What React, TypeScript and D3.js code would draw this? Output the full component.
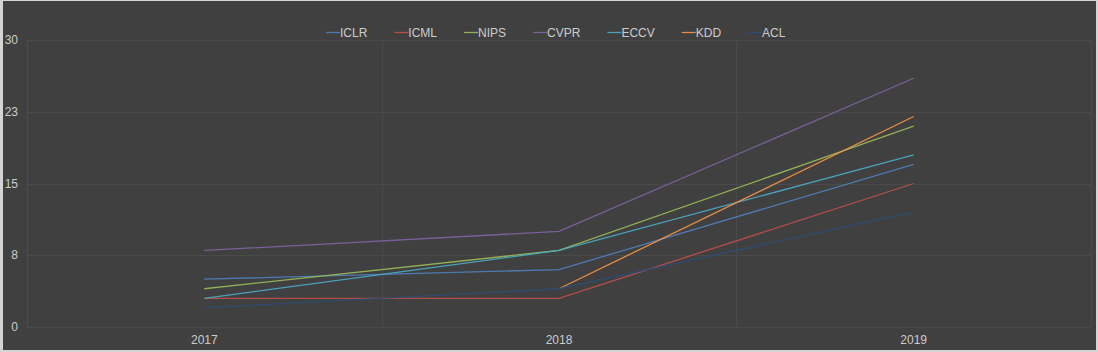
import * as React from 'react'
import { useEffect, useRef } from 'react'
import * as d3 from 'd3'

const years = ['2017', '2018', '2019']
const yTicks = [0, 7.5, 15, 22.5, 30]

const seriesNames = ['ICLR', 'ICML', 'NIPS', 'CVPR', 'ECCV', 'KDD', 'ACL']
const seriesColors = ['#4f81bd', '#c0504d', '#9bbb59', '#8064a2', '#4bacc6', '#f79646', '#2c4d75']

const iclr = [5, 6, 17]
const icml = [3, 3, 15]
const nips = [4, 8, 21]
const cvpr = [8, 10, 26]
const eccv = [3, 8, 18]
const kdd = [null, 4, 22]
const acl = [2, 4, 12]

const seriesValues: (number | null)[][] = [iclr, icml, nips, cvpr, eccv, kdd, acl]

const W = 1098
const H = 352

export default function App() {
  const svgRef = useRef<SVGSVGElement>(null)

  useEffect(() => {
    if (!svgRef.current) return
    const svg = d3.select(svgRef.current)
    svg.selectAll('*').remove()

    const left = 27
    const right = 1091
    const top = 40
    const bottom = 327
    const font = 'Liberation Sans, Arial, Helvetica, sans-serif'

    // outer frame + dark panel
    svg.append('rect').attr('width', W).attr('height', H).attr('fill', '#d4d4d4')
    svg.append('rect')
      .attr('x', 3).attr('y', 1)
      .attr('width', W - 5).attr('height', H - 3)
      .attr('fill', '#404040')

    const x = d3.scaleBand().domain(years).range([left, right]).padding(0)
    const y = d3.scaleLinear().domain([0, 30]).range([bottom, top])

    const grid = svg.append('g').attr('stroke', '#4a4a4a').attr('stroke-width', 1).attr('fill', 'none')

    // horizontal grid
    grid.selectAll('.h')
      .data(yTicks)
      .join('line')
      .attr('x1', left).attr('x2', right)
      .attr('y1', d => Math.round(y(d)) + 0.5)
      .attr('y2', d => Math.round(y(d)) + 0.5)

    // vertical grid at band edges
    const edges = [left, ...years.map(yr => (x(yr) as number) + x.bandwidth())]
    grid.selectAll('.v')
      .data(edges)
      .join('line')
      .attr('x1', d => Math.round(d) + 0.5).attr('x2', d => Math.round(d) + 0.5)
      .attr('y1', top).attr('y2', bottom)

    // y labels
    svg.append('g')
      .selectAll('text')
      .data(yTicks)
      .join('text')
      .attr('x', 18)
      .attr('y', d => y(d) + 4)
      .attr('text-anchor', 'end')
      .attr('font-family', font)
      .attr('font-size', 12)
      .attr('fill', '#cccccc')
      .text(d => d3.format('.0f')(Math.round(d + 0.01)))

    // x labels
    svg.append('g')
      .selectAll('text')
      .data(years)
      .join('text')
      .attr('x', d => (x(d) as number) + x.bandwidth() / 2)
      .attr('y', 344)
      .attr('text-anchor', 'middle')
      .attr('font-family', font)
      .attr('font-size', 12)
      .attr('fill', '#cccccc')
      .text(d => d)

    // series lines
    const line = d3.line<number | null>()
      .defined(d => d !== null)
      .x((d, i) => (x(years[i]) as number) + x.bandwidth() / 2)
      .y(d => y(d as number))

    svg.append('g')
      .selectAll('path')
      .data(seriesValues)
      .join('path')
      .attr('d', d => line(d) || '')
      .attr('fill', 'none')
      .attr('stroke', (d, i) => seriesColors[i])
      .attr('stroke-opacity', 0.9)
      .attr('stroke-width', 1.3)

    // legend
    const legend = svg.append('g').attr('font-family', font).attr('font-size', 12)
    let lx = 326
    const ly = 32
    seriesNames.forEach((name, i) => {
      const g = legend.append('g').attr('transform', `translate(${lx}, ${ly})`)
      g.append('line')
        .attr('x1', 0).attr('x2', 14)
        .attr('y1', 0.5).attr('y2', 0.5)
        .attr('stroke', seriesColors[i])
        .attr('stroke-opacity', 0.9)
        .attr('stroke-width', 1.3)
      const t = g.append('text')
        .attr('x', 14)
        .attr('y', 4.5)
        .attr('fill', '#cccccc')
        .text(name)
      const w = (t.node() as SVGTextElement).getComputedTextLength()
      lx += 14 + w + 27
    })
  }, [])

  return (
    <svg
      ref={svgRef}
      width={W}
      height={H}
      style={{ position: 'absolute', left: 0, top: 0, display: 'block' }}
    />
  )
}
